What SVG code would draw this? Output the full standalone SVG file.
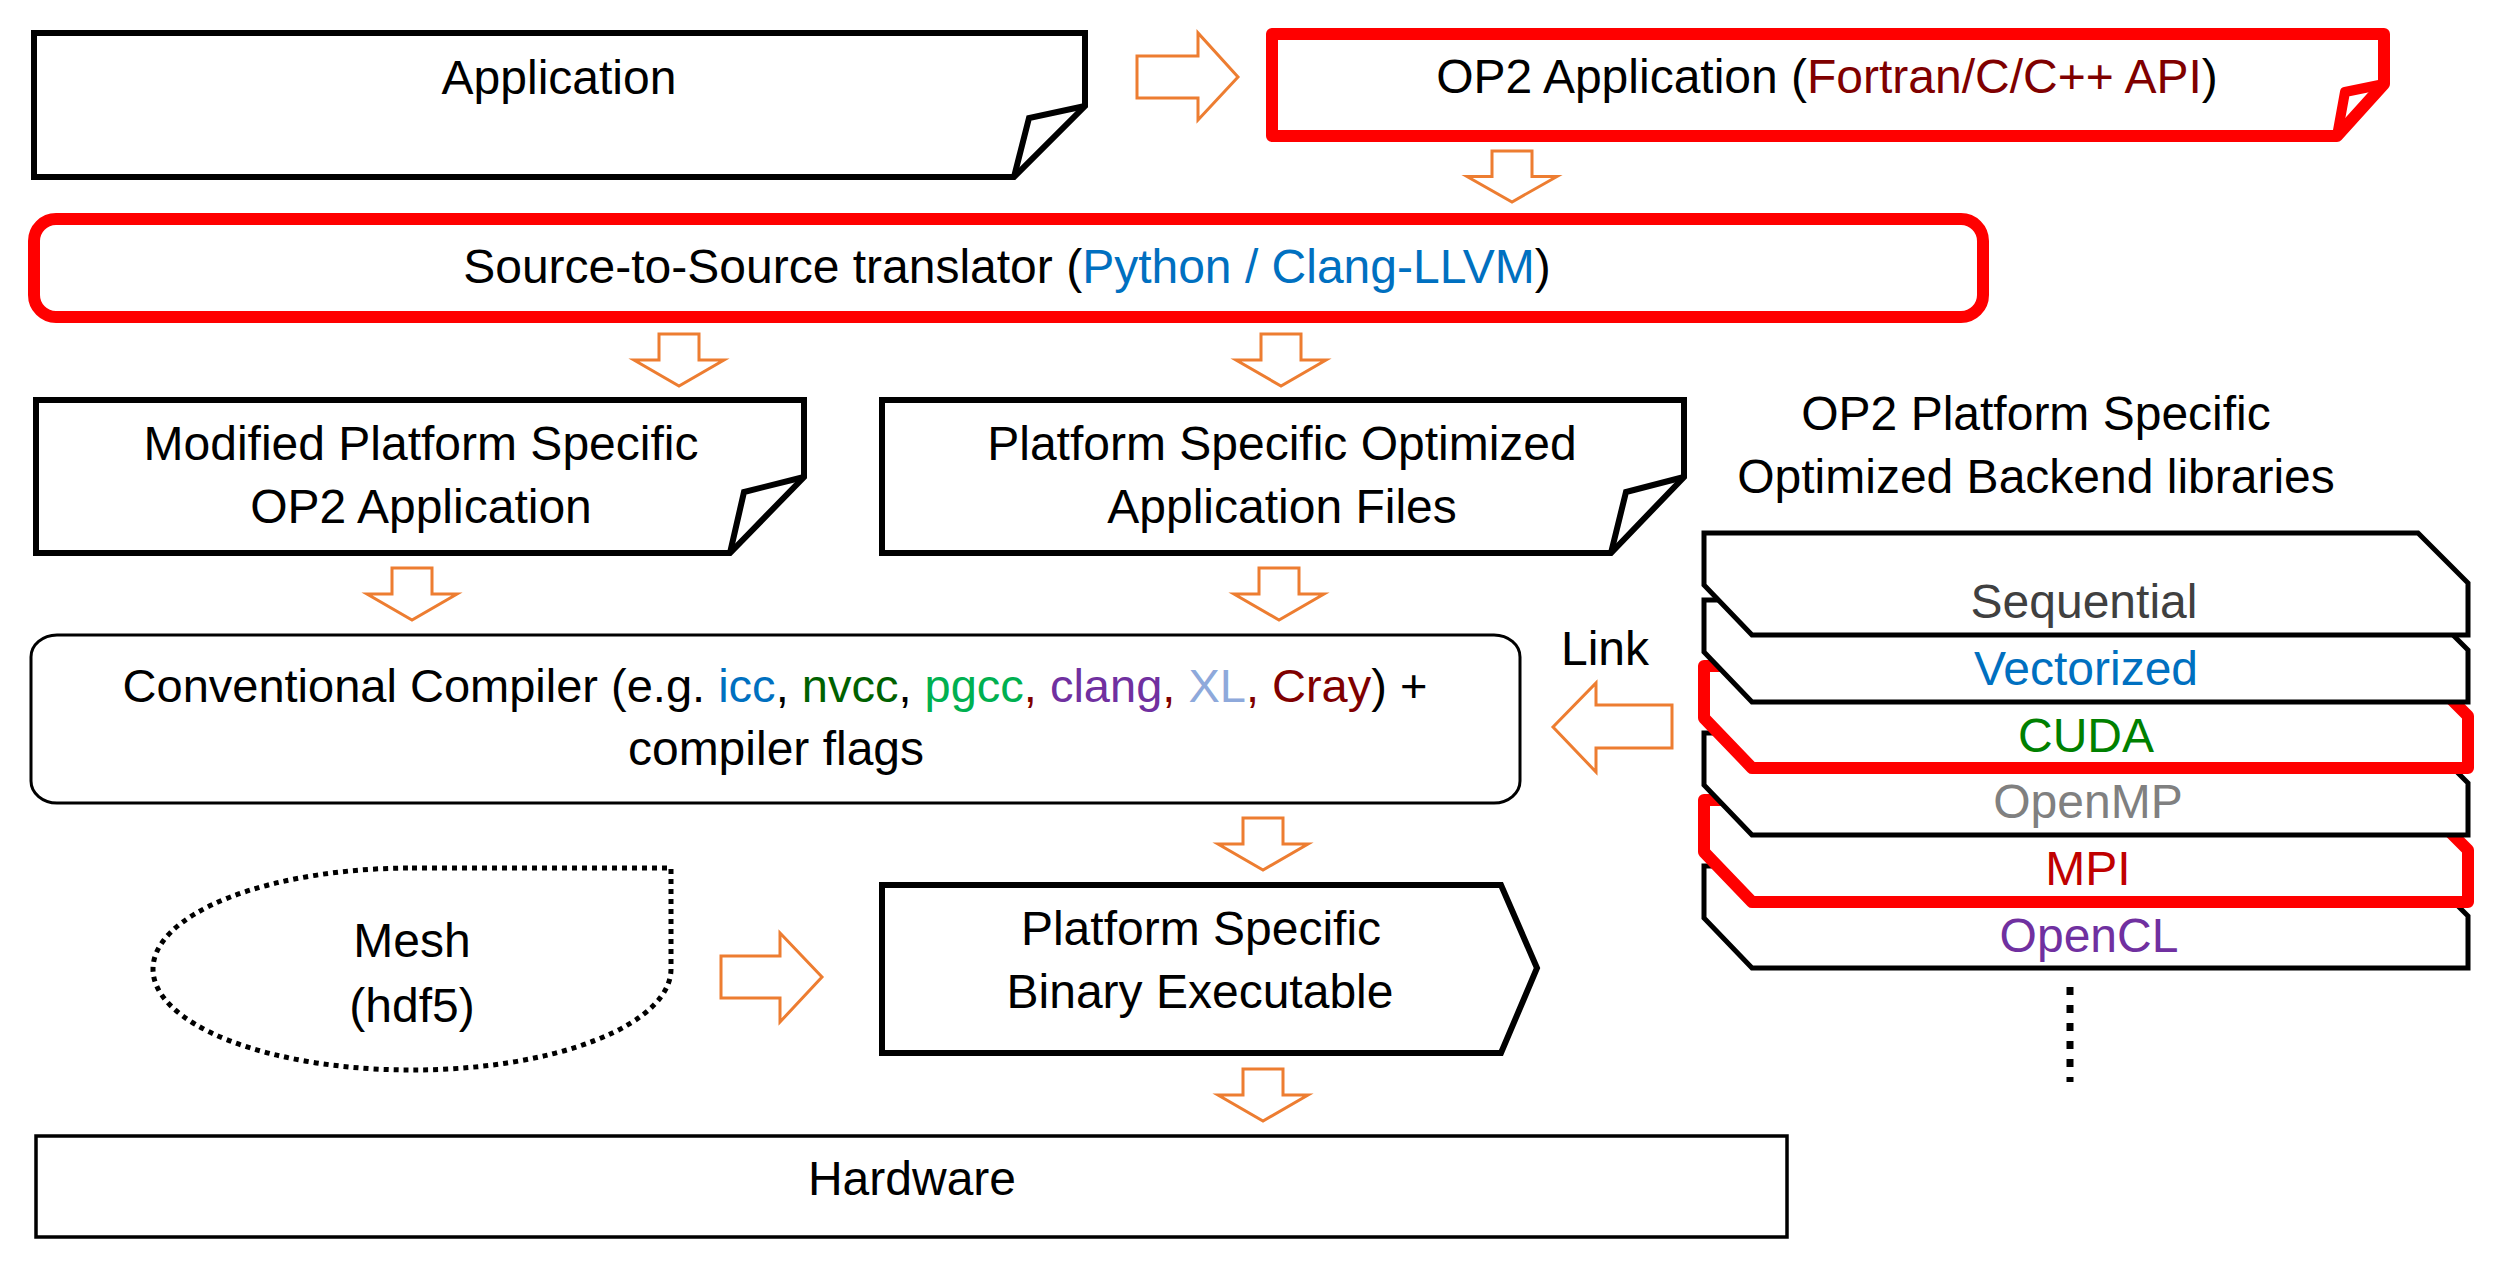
<svg xmlns="http://www.w3.org/2000/svg" xmlns:xlink="http://www.w3.org/1999/xlink" width="2506" height="1268" viewBox="0 0 2506 1268">
<defs>
<style>
text{font-family:"Liberation Sans",Arial,sans-serif;font-size:48px;fill:#000;text-anchor:middle}
.doc{fill:#fff;stroke:#000;stroke-width:6;stroke-linejoin:miter}
.docr{fill:#fff;stroke:#ff0000;stroke-width:12;stroke-linejoin:round}
.fold{fill:none;stroke:#000;stroke-width:6;stroke-linejoin:miter}
.foldr{fill:none;stroke:#ff0000;stroke-width:10;stroke-linejoin:round}
.arr{fill:#fff;stroke:#ED7D31;stroke-width:3}
.lay{fill:#fff;stroke:#000;stroke-width:5;stroke-linejoin:miter}
.layr{fill:#fff;stroke:#ff0000;stroke-width:12;stroke-linejoin:round}
.blue{fill:#0070C0}.dred{fill:#7F0000}.dgreen{fill:#006100}.green{fill:#00B050}.purple{fill:#7030A0}.lblue{fill:#8EA9DB}
</style>
<polygon id="layer" points="1704,0 2418,0 2468,50 2468,102 1752,102 1704,52"/>
<polygon id="arrDown" points="-20,0 20,0 20,26 45,26 0,52 -45,26 -20,26"/>
</defs>

<g id="connectors">
<polygon class="arr" points="1137,56 1198,56 1198,33 1238,77 1198,120 1198,98 1137,98"/>
<use xlink:href="#arrDown" class="arr" transform="translate(1512,151) scale(1,0.98)"/>
<use xlink:href="#arrDown" class="arr" transform="translate(679,334)"/>
<use xlink:href="#arrDown" class="arr" transform="translate(1281,334)"/>
<use xlink:href="#arrDown" class="arr" transform="translate(412,568)"/>
<use xlink:href="#arrDown" class="arr" transform="translate(1279,568)"/>
<polygon class="arr" points="1672,705 1596,705 1596,683 1553,727 1596,772 1596,748 1672,748"/>
<use xlink:href="#arrDown" class="arr" transform="translate(1263,818)"/>
<polygon class="arr" points="721,956 780,956 780,933 822,977 780,1022 780,998 721,998"/>
<use xlink:href="#arrDown" class="arr" transform="translate(1263,1069)"/>
</g>

<g id="application">
<polygon class="doc" points="34,33 1085,33 1085,106 1014,177 34,177"/>
<polyline class="fold" points="1085,106 1029,118 1014,177"/>
<text x="559" y="94">Application</text>
</g>

<g id="op2-application">
<polygon class="docr" points="1272,34 2384,34 2384,84 2337,136 1272,136"/>
<polyline class="foldr" points="2384,84 2345,92 2337,136"/>
<text x="1827" y="93">OP2 Application (<tspan class="dred">Fortran/C/C++ API</tspan>)</text>
</g>

<g id="translator">
<rect x="34" y="219" width="1949" height="98" rx="22" ry="22" fill="#fff" stroke="#ff0000" stroke-width="12"/>
<text x="1007" y="283">Source-to-Source translator (<tspan class="blue">Python / Clang-LLVM</tspan>)</text>
</g>

<g id="modified-app">
<polygon class="doc" points="36,400 804,400 804,477 730,553 36,553"/>
<polyline class="fold" points="804,477 744,492 730,553"/>
<text x="421" y="460">Modified Platform Specific</text>
<text x="421" y="523">OP2 Application</text>
</g>

<g id="optimized-files">
<polygon class="doc" points="882,400 1684,400 1684,477 1611,553 882,553"/>
<polyline class="fold" points="1684,477 1626,492 1611,553"/>
<text x="1282" y="460">Platform Specific Optimized</text>
<text x="1282" y="523">Application Files</text>
</g>

<g id="compiler">
<rect x="31" y="635" width="1489" height="168" rx="26" ry="22" fill="#fff" stroke="#000" stroke-width="3"/>
<text x="775" y="702" style="font-size:47px">Conventional Compiler (e.g. <tspan class="blue">icc</tspan>, <tspan class="dgreen">nvcc</tspan>, <tspan class="green">pgcc</tspan><tspan class="dred">, </tspan><tspan class="purple">clang</tspan><tspan class="dred">, </tspan><tspan class="lblue">XL</tspan><tspan class="dred">, Cray</tspan>) +</text>
<text x="776" y="765">compiler flags</text>
</g>

<g id="backend-title">
<text x="2036" y="430">OP2 Platform Specific</text>
<text x="2036" y="493">Optimized Backend libraries</text>
</g>

<g id="link-label">
<text x="1561" y="665" style="text-anchor:start">Link</text>
</g>

<g id="backend-stack">
<use xlink:href="#layer" class="lay" y="866"/>
<use xlink:href="#layer" class="layr" y="800"/>
<use xlink:href="#layer" class="lay" y="733"/>
<use xlink:href="#layer" class="layr" y="666"/>
<use xlink:href="#layer" class="lay" y="600"/>
<use xlink:href="#layer" class="lay" y="533"/>
<text x="2084" y="618" style="fill:#404040">Sequential</text>
<text x="2086" y="685" class="blue">Vectorized</text>
<text x="2086" y="752" style="fill:#008000">CUDA</text>
<text x="2088" y="818" style="fill:#808080">OpenMP</text>
<text x="2088" y="885" style="fill:#C00000">MPI</text>
<text x="2089" y="952" class="purple">OpenCL</text>
<line x1="2070" y1="987" x2="2070" y2="1082" stroke="#000" stroke-width="7" stroke-dasharray="8 10"/>
</g>

<g id="mesh">
<path d="M412,868 L671,868 L671,969 A259,101 0 0 1 412,1070 A259,101 0 0 1 153,969 A259,101 0 0 1 412,868 Z" fill="#fff" stroke="#000" stroke-width="5" stroke-dasharray="5 5"/>
<text x="412" y="957">Mesh</text>
<text x="412" y="1022">(hdf5)</text>
</g>

<g id="binary">
<polygon points="882,885 1501,885 1537,968 1501,1053 882,1053" fill="#fff" stroke="#000" stroke-width="6"/>
<text x="1201" y="945">Platform Specific</text>
<text x="1200" y="1008">Binary Executable</text>
</g>

<g id="hardware">
<rect x="36" y="1136" width="1751" height="101" fill="#fff" stroke="#000" stroke-width="3.5"/>
<text x="912" y="1195">Hardware</text>
</g>
</svg>
